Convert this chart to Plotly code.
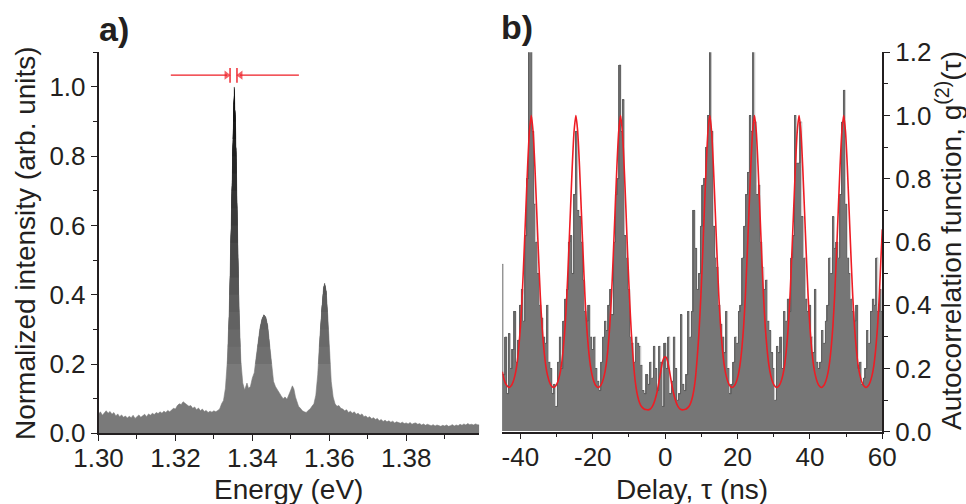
import plotly.graph_objects as go

# ---------------- Panel a: emission spectrum ----------------
energy = [
    1.3000, 1.3005, 1.3010, 1.3015, 1.3020, 1.3025, 1.3030, 1.3035, 1.3040, 1.3045,
    1.3050, 1.3055, 1.3060, 1.3065, 1.3070, 1.3075, 1.3080, 1.3085, 1.3090, 1.3095,
    1.3100, 1.3105, 1.3110, 1.3115, 1.3120, 1.3125, 1.3130, 1.3135, 1.3140, 1.3145,
    1.3150, 1.3155, 1.3160, 1.3165, 1.3170, 1.3175, 1.3180, 1.3185, 1.3190, 1.3195,
    1.3200, 1.3205, 1.3210, 1.3215, 1.3220, 1.3225, 1.3230, 1.3235, 1.3240, 1.3245,
    1.3250, 1.3255, 1.3260, 1.3265, 1.3270, 1.3275, 1.3280, 1.3285, 1.3290, 1.3295,
    1.3300, 1.3305, 1.3310, 1.3315, 1.3320, 1.3325, 1.3330, 1.3335, 1.3340, 1.3345,
    1.3349, 1.3353, 1.3357, 1.3361, 1.3365, 1.3370, 1.3375, 1.3380, 1.3383, 1.3386,
    1.3390, 1.3395, 1.3400, 1.3405, 1.3410, 1.3415, 1.3420, 1.3425, 1.3430, 1.3435,
    1.3440, 1.3445, 1.3450, 1.3455, 1.3460, 1.3465, 1.3470, 1.3475, 1.3480, 1.3485,
    1.3490, 1.3495, 1.3500, 1.3504, 1.3508, 1.3512, 1.3516, 1.3520, 1.3525, 1.3530,
    1.3535, 1.3540, 1.3545, 1.3550, 1.3555, 1.3560, 1.3565, 1.3570, 1.3575, 1.3580,
    1.3585, 1.3588, 1.3592, 1.3596, 1.3600, 1.3605, 1.3610, 1.3615, 1.3620, 1.3625,
    1.3630, 1.3635, 1.3640, 1.3645, 1.3650, 1.3655, 1.3660, 1.3665, 1.3670, 1.3675,
    1.3680, 1.3685, 1.3690, 1.3695, 1.3700, 1.3705, 1.3710, 1.3715, 1.3720, 1.3725,
    1.3730, 1.3735, 1.3740, 1.3745, 1.3750, 1.3755, 1.3760, 1.3765, 1.3770, 1.3775,
    1.3780, 1.3785, 1.3790, 1.3795, 1.3800, 1.3805, 1.3810, 1.3815, 1.3820, 1.3825,
    1.3830, 1.3835, 1.3840, 1.3845, 1.3850, 1.3855, 1.3860, 1.3865, 1.3870, 1.3875,
    1.3880, 1.3885, 1.3890, 1.3895, 1.3900, 1.3905, 1.3910, 1.3915, 1.3920, 1.3925,
    1.3930, 1.3935, 1.3940, 1.3945, 1.3950, 1.3955, 1.3960, 1.3965, 1.3970, 1.3975,
    1.3980, 1.3985, 1.3990,
]
intensity = [
    0.055, 0.062, 0.052, 0.060, 0.065, 0.058, 0.063, 0.055, 0.060, 0.050,
    0.056, 0.048, 0.053, 0.046, 0.050, 0.044, 0.049, 0.045, 0.052, 0.043,
    0.047, 0.053, 0.046, 0.050, 0.055, 0.048, 0.056, 0.052, 0.058, 0.054,
    0.060, 0.057, 0.062, 0.058, 0.064, 0.060, 0.066, 0.062, 0.068, 0.072,
    0.070, 0.080, 0.085, 0.083, 0.091, 0.086, 0.082, 0.078, 0.080, 0.072,
    0.076, 0.068, 0.073, 0.065, 0.070, 0.063, 0.066, 0.060, 0.064, 0.061,
    0.065, 0.062, 0.066, 0.070, 0.085, 0.095, 0.130, 0.210, 0.360, 0.620,
    0.860, 1.000, 0.860, 0.600, 0.370, 0.210, 0.145, 0.125, 0.135, 0.145,
    0.130, 0.135, 0.160, 0.175, 0.220, 0.265, 0.305, 0.330, 0.342, 0.335,
    0.310, 0.255, 0.200, 0.150, 0.135, 0.125, 0.115, 0.108, 0.100, 0.105,
    0.098, 0.110, 0.125, 0.137, 0.128, 0.105, 0.090, 0.078, 0.072, 0.065,
    0.062, 0.060, 0.066, 0.070, 0.078, 0.085, 0.110, 0.170, 0.270, 0.360,
    0.420, 0.433, 0.410, 0.340, 0.240, 0.150, 0.105, 0.085, 0.078, 0.080,
    0.072, 0.070, 0.065, 0.068, 0.060, 0.064, 0.058, 0.062, 0.055, 0.058,
    0.052, 0.056, 0.048, 0.050, 0.045, 0.048, 0.042, 0.045, 0.040, 0.043,
    0.036, 0.040, 0.034, 0.038, 0.033, 0.036, 0.032, 0.035, 0.030, 0.033,
    0.031, 0.029, 0.032, 0.028, 0.030, 0.027, 0.031, 0.026, 0.029, 0.030,
    0.026, 0.028, 0.024, 0.027, 0.023, 0.026, 0.024, 0.022, 0.025, 0.021,
    0.024, 0.022, 0.020, 0.023, 0.021, 0.024, 0.020, 0.022, 0.025, 0.021,
    0.024, 0.022, 0.026, 0.023, 0.027, 0.024, 0.028, 0.025, 0.026, 0.024,
    0.027, 0.025, 0.024,
]
energy_ticks = [1.30, 1.32, 1.34, 1.36, 1.38]
energy_ticktext = ["1.30", "1.32", "1.34", "1.36", "1.38"]

# linewidth marker (red arrows) on the main line
fwhm_bounds = [1.3342, 1.3360]
fwhm_marker_span = [1.012, 1.055]
arrow_level = 1.034
arrow_tails = [1.3188, 1.3521]

# ---------------- Panel b: g2 histogram + fit ----------------
coincidences = [
    0.53, 0.18, 0.30, 0.12, 0.31, 0.20, 0.26, 0.38, 0.22, 0.29,
    0.40, 0.45, 0.35, 0.62, 0.80, 1.25, 1.30, 0.95, 0.72, 0.60,
    0.50, 0.40, 0.36, 0.30, 0.28, 0.40, 0.22, 0.20, 0.12, 0.15,
    0.08, 0.22, 0.30, 0.20, 0.35, 0.42, 0.45, 0.60, 0.62, 0.50,
    0.75, 0.95, 0.70, 0.68, 0.60, 0.48, 0.38, 0.35, 0.40, 0.30,
    0.26, 0.30, 0.20, 0.16, 0.13, 0.22, 0.30, 0.35, 0.32, 0.40,
    0.45, 0.37, 0.60, 0.75, 0.80, 1.16, 0.95, 1.05, 0.62, 0.55,
    0.45, 0.30, 0.28, 0.22, 0.30, 0.28, 0.27, 0.21, 0.13, 0.12,
    0.18, 0.15, 0.22, 0.17, 0.27, 0.20, 0.13, 0.27, 0.22, 0.08,
    0.28, 0.20, 0.30, 0.12, 0.16, 0.30, 0.20, 0.10, 0.12, 0.37,
    0.15, 0.13, 0.18, 0.38, 0.30, 0.38, 0.70, 0.58, 0.45, 0.50,
    0.65, 0.78, 0.80, 0.90, 1.00, 1.22, 0.95, 0.65, 0.55, 0.52,
    0.40, 0.34, 0.30, 0.25, 0.38, 0.20, 0.12, 0.15, 0.22, 0.30,
    0.28, 0.38, 0.40, 0.55, 0.65, 0.75, 0.82, 1.00, 0.95, 1.25,
    0.98, 0.75, 0.78, 0.60, 0.52, 0.45, 0.48, 0.35, 0.32, 0.25,
    0.20, 0.10, 0.27, 0.25, 0.30, 0.20, 0.38, 0.35, 0.42, 0.38,
    0.55, 0.62, 1.00, 0.85, 0.85, 0.98, 0.68, 0.55, 0.42, 0.38,
    0.40, 0.30, 0.25, 0.45, 0.22, 0.20, 0.22, 0.32, 0.28, 0.35,
    0.40, 0.55, 0.50, 0.68, 0.58, 0.60, 0.55, 0.75, 0.98, 1.08,
    0.72, 0.55, 0.50, 0.42, 0.38, 0.35, 0.40, 0.20, 0.22, 0.15,
    0.17, 0.20, 0.32, 0.28, 0.38, 0.42, 0.40, 0.55, 0.38, 0.45,
    0.38,
]
bin_start = -45.0
bin_width = 0.5
delay_bins = [bin_start + bin_width * i for i in range(len(coincidences))]

fit_delay = [
    -45.0, -44.5, -44.0, -43.5, -43.17,
    -42.5, -42.0, -41.5, -41.0, -40.5, -40.0, -39.5, -39.0, -38.5, -38.0, -37.5, -37.0,
    -36.5, -36.0, -35.5, -35.0, -34.5, -34.0, -33.5, -33.0, -32.5, -32.0, -31.5, -30.83,
    -30.17, -29.67, -29.17, -28.67, -28.17, -27.67, -27.17, -26.67, -26.17, -25.67, -25.17, -24.67,
    -24.17, -23.67, -23.17, -22.67, -22.17, -21.67, -21.17, -20.67, -20.17, -19.67, -19.17, -18.5,
    -17.83, -17.33, -16.83, -16.33, -15.83, -15.33, -14.83, -14.33, -13.83, -13.33, -12.83, -12.33,
    -11.83, -11.33, -10.83, -10.33, -9.83, -9.33, -8.83, -8.33, -7.83, -7.33, -6.83, -6.33, -5.83,
    -5.33, -4.7,
    -4.2, -3.7, -3.2, -2.7, -2.2, -1.7, -1.2, -0.7, -0.3, 0.0,
    0.3, 0.7, 1.2, 1.7, 2.2, 2.7, 3.2, 3.7, 4.2, 4.85,
    5.33, 5.83, 6.33, 6.83, 7.33, 7.83, 8.33, 8.83, 9.33, 9.83, 10.33, 10.83, 11.33, 11.83,
    12.33,
    12.83, 13.33, 13.83, 14.33, 14.83, 15.33, 15.83, 16.33, 16.83, 17.33, 17.83, 18.5,
    19.17, 19.67, 20.17, 20.67, 21.17, 21.67, 22.17, 22.67, 23.17, 23.67, 24.17, 24.67,
    25.17, 25.67, 26.17, 26.67, 27.17, 27.67, 28.17, 28.67, 29.17, 29.67, 30.17, 30.83,
    31.5, 32.0, 32.5, 33.0, 33.5, 34.0, 34.5, 35.0, 35.5, 36.0, 36.5, 37.0,
    37.5, 38.0, 38.5, 39.0, 39.5, 40.0, 40.5, 41.0, 41.5, 42.0, 42.5, 43.17,
    43.83, 44.33, 44.83, 45.33, 45.83, 46.33, 46.83, 47.33, 47.83, 48.33, 48.83, 49.33,
    49.83, 50.33, 50.83, 51.33, 51.83, 52.33, 52.83, 53.33, 53.83, 54.33, 54.83, 55.5,
    56.17, 56.67, 57.17, 57.67, 58.17, 58.67, 59.17, 59.67, 60.0,
]
fit_g2 = [
    0.190, 0.165, 0.150, 0.143, 0.140,
    0.146, 0.158, 0.178, 0.210, 0.260, 0.330, 0.430, 0.560, 0.700, 0.840, 0.950, 1.000,
    0.950, 0.840, 0.700, 0.560, 0.430, 0.330, 0.260, 0.210, 0.178, 0.158, 0.146, 0.140,
    0.146, 0.158, 0.178, 0.210, 0.260, 0.330, 0.430, 0.560, 0.700, 0.840, 0.950, 1.000,
    0.950, 0.840, 0.700, 0.560, 0.430, 0.330, 0.260, 0.210, 0.178, 0.158, 0.146, 0.140,
    0.146, 0.158, 0.178, 0.210, 0.260, 0.330, 0.430, 0.560, 0.700, 0.840, 0.950, 1.000,
    0.950, 0.840, 0.700, 0.550, 0.420, 0.310, 0.230, 0.165, 0.125, 0.100, 0.085, 0.077, 0.072,
    0.070, 0.069,
    0.071, 0.077, 0.088, 0.105, 0.128, 0.158, 0.192, 0.222, 0.235, 0.237,
    0.235, 0.222, 0.192, 0.158, 0.128, 0.105, 0.088, 0.077, 0.071, 0.069,
    0.070, 0.072, 0.077, 0.085, 0.100, 0.125, 0.165, 0.230, 0.310, 0.420, 0.550, 0.700, 0.840, 0.950,
    1.000,
    0.950, 0.840, 0.700, 0.560, 0.430, 0.330, 0.260, 0.210, 0.178, 0.158, 0.146, 0.140,
    0.146, 0.158, 0.178, 0.210, 0.260, 0.330, 0.430, 0.560, 0.700, 0.840, 0.950, 1.000,
    0.950, 0.840, 0.700, 0.560, 0.430, 0.330, 0.260, 0.210, 0.178, 0.158, 0.146, 0.140,
    0.146, 0.158, 0.178, 0.210, 0.260, 0.330, 0.430, 0.560, 0.700, 0.840, 0.950, 1.000,
    0.950, 0.840, 0.700, 0.560, 0.430, 0.330, 0.260, 0.210, 0.178, 0.158, 0.146, 0.140,
    0.146, 0.158, 0.178, 0.210, 0.260, 0.330, 0.430, 0.560, 0.700, 0.840, 0.950, 1.000,
    0.950, 0.840, 0.700, 0.560, 0.430, 0.330, 0.260, 0.210, 0.178, 0.158, 0.146, 0.140,
    0.146, 0.158, 0.178, 0.210, 0.260, 0.330, 0.430, 0.560, 0.640,
]
delay_ticks = [-40, -20, 0, 20, 40, 60]
delay_ticktext = ["-40", "-20", "0", "20", "40", "60"]

# ---------------- styling ----------------
FONT = "Liberation Sans, Arial, Helvetica, sans-serif"
INK = "#231f20"
GRAY = "#7a7a7a"
RED = "#ee1c24"
W, H = 966, 504

xa_dom = [98.5 / W, 479.3 / W]
xb_dom = [502.3 / W, 882.3 / W]
ya_dom = [(H - 433.3) / H, (H - 52.3) / H]
yb_dom = [(H - 431.7) / H, (H - 52.3) / H]


def band_polygon(xs, ys, lev):
    """Region of the filled spectrum lying above the level `lev`."""
    px, py = [], []
    prev_above = None
    for i in range(len(xs)):
        x, y = xs[i], ys[i]
        above = y > lev
        if i > 0 and above != prev_above:
            x0, y0 = xs[i - 1], ys[i - 1]
            xc = x0 + (lev - y0) * (x - x0) / (y - y0)
            if above:
                px.append(xc); py.append(lev)
            else:
                px += [xc, None]; py += [lev, None]
        if above:
            if i == 0:
                px.append(x); py.append(lev)
            px.append(x); py.append(y)
        prev_above = above
    if prev_above:
        px.append(xs[-1]); py.append(lev)
    return px, py


fig = go.Figure()

# spectrum base fill
fig.add_trace(go.Scatter(x=energy, y=intensity, mode="lines", fill="tozeroy",
                         fillcolor=GRAY, line=dict(color=GRAY, width=0.6),
                         xaxis="x", yaxis="y", hoverinfo="skip"))
# darker shading with height (gradient look)
n_levels = 16
for k in range(n_levels):
    lev = 0.2 + 0.75 * k / (n_levels - 1)
    g = int(round(0x76 - (0x76 - 0x0c) * (k + 1) / n_levels))
    col = "#{0:02x}{0:02x}{0:02x}".format(g)
    px, py = band_polygon(energy, intensity, lev)
    if not px:
        continue
    fig.add_trace(go.Scatter(x=px, y=py, mode="lines", fill="toself", fillcolor=col,
                             line=dict(width=0, color=col), xaxis="x", yaxis="y",
                             hoverinfo="skip"))

# histogram
fig.add_trace(go.Bar(x=delay_bins, y=coincidences, width=bin_width,
                     marker=dict(color="#767676", line=dict(width=0)),
                     xaxis="x2", yaxis="y2", hoverinfo="skip"))
fig.add_trace(go.Scatter(x=delay_bins, y=coincidences, mode="lines",
                         line=dict(color="rgba(45,45,45,0.4)", width=0.8, shape="hvh"),
                         xaxis="x2", yaxis="y2", hoverinfo="skip"))
# fit
fig.add_trace(go.Scatter(x=fit_delay, y=fit_g2, mode="lines",
                         line=dict(color=RED, width=1.6, shape="spline", smoothing=0.6),
                         xaxis="x2", yaxis="y2", hoverinfo="skip"))

# linewidth arrows
fig.add_trace(go.Scatter(x=[arrow_tails[0], fwhm_bounds[0] - 0.0008], y=[arrow_level] * 2,
                         mode="lines", line=dict(color=RED, width=1.2),
                         xaxis="x", yaxis="y", hoverinfo="skip"))
fig.add_trace(go.Scatter(x=[arrow_tails[1], fwhm_bounds[1] + 0.0008], y=[arrow_level] * 2,
                         mode="lines", line=dict(color=RED, width=1.2),
                         xaxis="x", yaxis="y", hoverinfo="skip"))
fig.add_trace(go.Scatter(x=[fwhm_bounds[0] - 0.0009, fwhm_bounds[1] + 0.0009],
                         y=[arrow_level] * 2, mode="markers",
                         marker=dict(symbol=["triangle-right", "triangle-left"], size=[8, 8],
                                     color=RED, line=dict(width=0)),
                         xaxis="x", yaxis="y", hoverinfo="skip"))

tickfont = dict(family=FONT, size=26, color=INK)


def main_axis(**kw):
    d = dict(showline=True, linecolor=INK, linewidth=1.5, showgrid=False, zeroline=False,
             ticks="outside", ticklen=6, tickwidth=1.3, tickcolor=INK, tickfont=tickfont,
             fixedrange=True, automargin=False)
    d.update(kw)
    return d


def mirror_axis(**kw):
    d = dict(showline=True, linecolor=INK, linewidth=1.5, showgrid=False, zeroline=False,
             ticks="inside", ticklen=6, tickwidth=1.3, tickcolor=INK, showticklabels=False,
             fixedrange=True, automargin=False)
    d.update(kw)
    return d


fig.update_layout(
    width=W, height=H, margin=dict(l=0, r=0, t=0, b=0, autoexpand=False),
    paper_bgcolor="white", plot_bgcolor="rgba(0,0,0,0)", showlegend=False,
    bargap=0,
    xaxis=main_axis(domain=xa_dom, range=[1.30, 1.399], anchor="y",
                    tickmode="array", tickvals=energy_ticks, ticktext=energy_ticktext,
                    ticklabelstandoff=-5,
                    minor=dict(ticks="outside", ticklen=3.5, tickwidth=1.2, tickcolor=INK,
                               tickmode="linear", tick0=1.31, dtick=0.02)),
    xaxis3=mirror_axis(overlaying="x", side="top", anchor="y", range=[1.30, 1.399],
                       tickmode="array", tickvals=energy_ticks,
                       minor=dict(ticks="inside", ticklen=4, tickwidth=1.2, tickcolor=INK,
                                  tickmode="linear", tick0=1.31, dtick=0.02)),
    yaxis=main_axis(domain=ya_dom, range=[0, 1.1], anchor="x", dtick=0.2, tick0=0,
                    tickformat=".1f",
                    minor=dict(ticks="outside", ticklen=3.5, tickwidth=1.2, tickcolor=INK,
                               dtick=0.1, tick0=0)),
    yaxis3=mirror_axis(overlaying="y", side="right", anchor="x", range=[0, 1.1], dtick=0.2,
                       tick0=0,
                       minor=dict(ticks="inside", ticklen=4, tickwidth=1.2, tickcolor=INK,
                                  dtick=0.1, tick0=0)),
    xaxis2=main_axis(domain=xb_dom, range=[-45, 60], anchor="y2",
                     tickmode="array", tickvals=delay_ticks, ticktext=delay_ticktext,
                     ticklabelstandoff=-5,
                     minor=dict(ticks="outside", ticklen=3.5, tickwidth=1.2, tickcolor=INK,
                                tickmode="linear", tick0=-30, dtick=20)),
    xaxis4=mirror_axis(overlaying="x2", side="top", anchor="y2", range=[-45, 60],
                       tickmode="array", tickvals=delay_ticks,
                       minor=dict(ticks="inside", ticklen=4, tickwidth=1.2, tickcolor=INK,
                                  tickmode="linear", tick0=-30, dtick=20)),
    yaxis2=main_axis(domain=yb_dom, range=[0, 1.2], anchor="x2", side="right", dtick=0.2,
                     tick0=0, tickformat=".1f",
                     minor=dict(ticks="outside", ticklen=3.5, tickwidth=1.2, tickcolor=INK,
                                dtick=0.1, tick0=0)),
    yaxis4=mirror_axis(overlaying="y2", side="left", anchor="x2", range=[0, 1.2], dtick=0.2,
                       tick0=0,
                       minor=dict(ticks="inside", ticklen=4, tickwidth=1.2, tickcolor=INK,
                                  dtick=0.1, tick0=0)),
)

title_font = dict(family=FONT, size=28, color=INK)
label_font = dict(family=FONT, size=34, color=INK)
ann = [
    dict(text="<b>a)</b>", x=97 / W, y=1 - 29 / H, xref="paper", yref="paper",
         xanchor="left", yanchor="middle", showarrow=False, font=label_font),
    dict(text="<b>b)</b>", x=499 / W, y=1 - 27 / H, xref="paper", yref="paper",
         xanchor="left", yanchor="middle", showarrow=False, font=label_font),
    dict(text="Energy (eV)", x=288.9 / W, y=1 - 489 / H, xref="paper", yref="paper",
         xanchor="center", yanchor="middle", showarrow=False, font=title_font),
    dict(text="Delay, τ (ns)", x=692.3 / W, y=1 - 489 / H, xref="paper", yref="paper",
         xanchor="center", yanchor="middle", showarrow=False, font=title_font),
    dict(text="Normalized intensity (arb. units)", x=25 / W, y=1 - 243 / H, xref="paper",
         yref="paper", xanchor="center", yanchor="middle", textangle=-90, showarrow=False,
         font=title_font),
    dict(text="Autocorrelation function, g<sup>(2)</sup>(τ)", x=949 / W, y=1 - 241 / H,
         xref="paper", yref="paper", xanchor="center", yanchor="middle", textangle=-90,
         showarrow=False, font=title_font),
]
fig.update_layout(annotations=ann)
for xb in fwhm_bounds:
    fig.add_shape(type="line", xref="x", yref="y", x0=xb, x1=xb,
                  y0=fwhm_marker_span[0], y1=fwhm_marker_span[1],
                  line=dict(color=RED, width=1.4))

fig.write_html("out.html", config={"displayModeBar": False},
               post_script="document.body.style.margin='0px';"
                           "document.body.style.overflow='hidden';")
